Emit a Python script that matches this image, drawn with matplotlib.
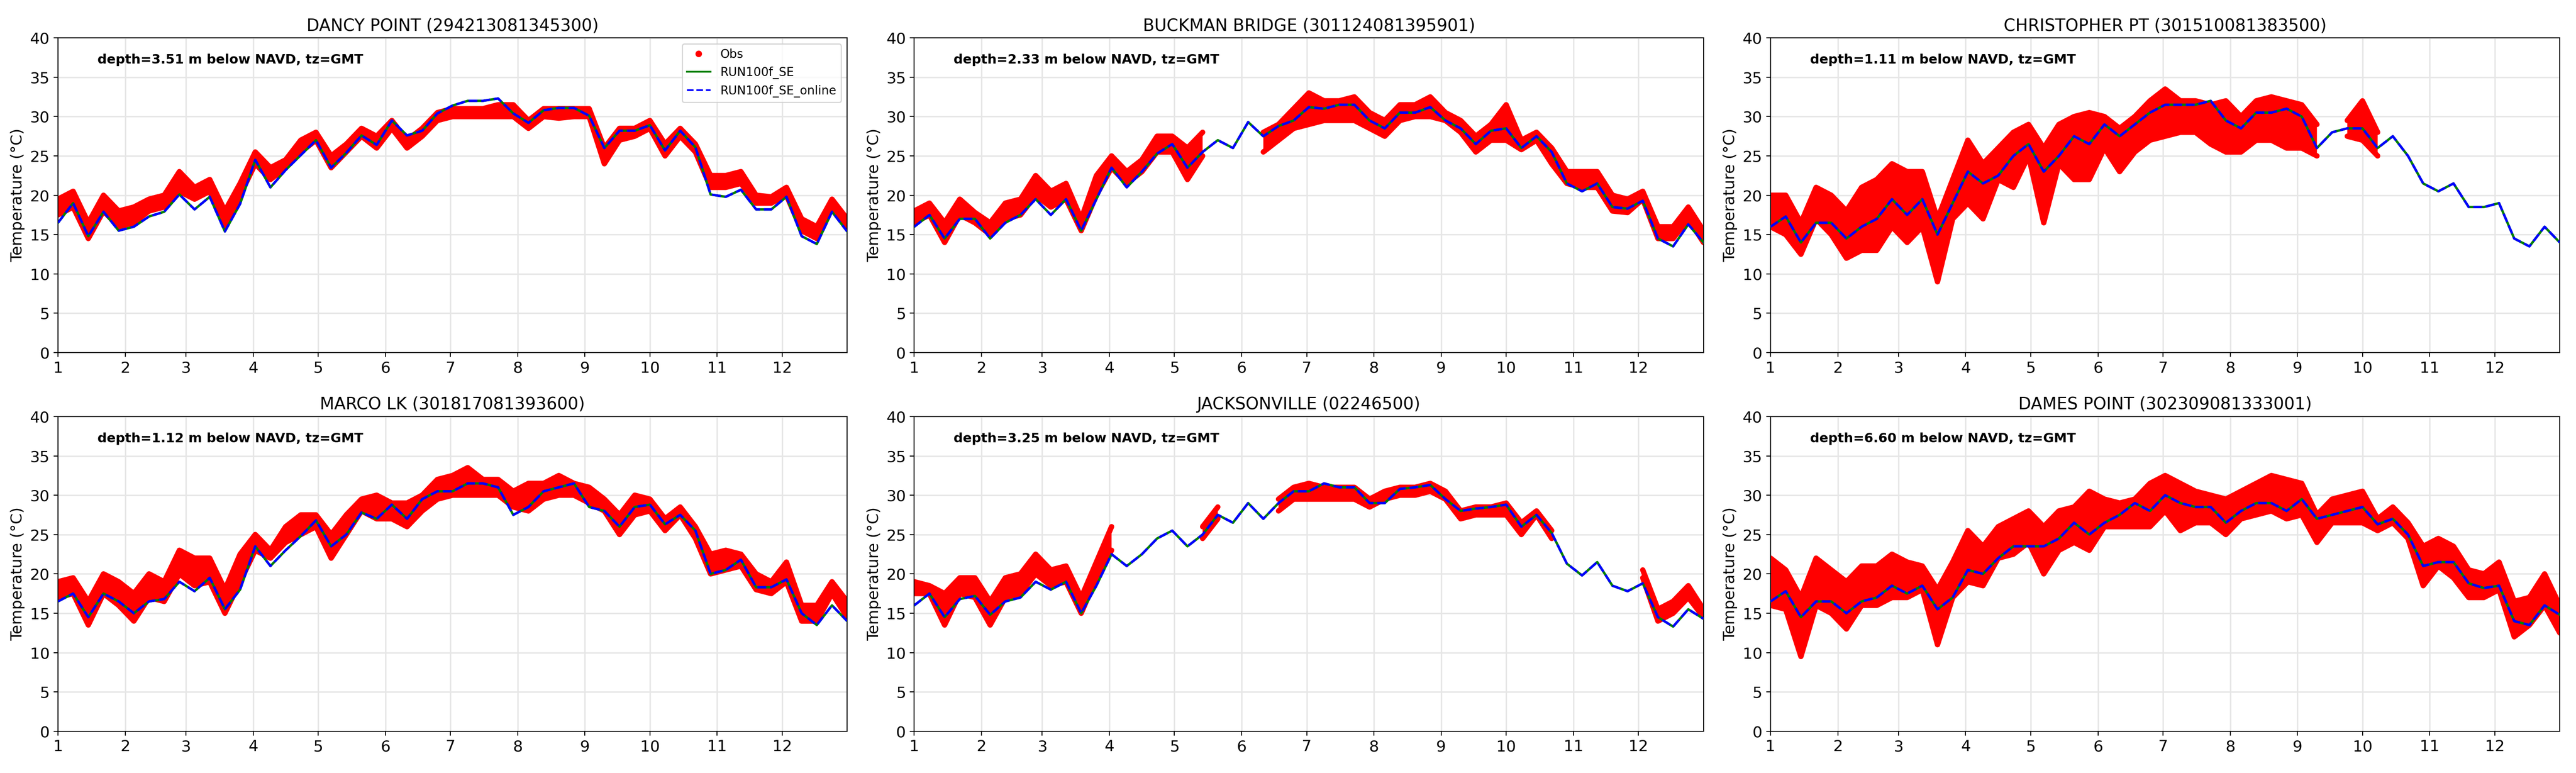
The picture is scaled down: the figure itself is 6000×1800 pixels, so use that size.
import numpy as np
import pandas as pd
import matplotlib
matplotlib.use('Agg')
import matplotlib.pyplot as plt
from matplotlib.lines import Line2D

nan = np.nan

# weekly samples (2018, day 0..364)
days = pd.date_range('2018-01-01', periods=53, freq='7D')
month_starts = pd.date_range('2018-01-01', periods=12, freq='MS')
month_labels = [str(m) for m in range(1, 13)]

titles = ['DANCY POINT (294213081345300)', 'BUCKMAN BRIDGE (301124081395901)',
          'CHRISTOPHER PT (301510081383500)', 'MARCO LK (301817081393600)',
          'JACKSONVILLE (02246500)', 'DAMES POINT (302309081333001)']
depths = ['3.51', '2.33', '1.11', '1.12', '3.25', '6.60']

# DANCY POINT
dancy_lo = [17.5, 18.5, 14.5, 18.0, 16.0, 16.5, 18.0, 18.5, 20.5, 19.5, 20.5, 16.0, 20.0, 24.0, 22.0, 23.5, 25.5, 27.0,
            23.5, 25.5, 27.5, 26.0, 28.5, 26.0, 27.5, 29.5, 30.0, 30.0, 30.0, 30.0, 30.0, 28.5, 30.0, 29.8, 30.0, 30.0,
            24.0, 27.0, 27.5, 28.5, 25.0, 27.5, 25.5, 21.0, 21.0, 21.5, 19.0, 19.0, 20.0, 15.5, 14.5, 18.5, 16.0]
dancy_hi = [19.5, 20.5, 16.5, 20.0, 18.0, 18.5, 19.5, 20.0, 23.0, 21.0, 22.0, 18.0, 21.5, 25.5, 23.5, 24.5, 27.0, 28.0,
            25.0, 26.5, 28.5, 27.5, 29.5, 27.0, 28.5, 30.5, 31.0, 31.0, 31.0, 31.5, 31.5, 29.5, 31.0, 31.0, 31.0, 31.0,
            26.0, 28.5, 28.5, 29.5, 26.5, 28.5, 26.5, 22.5, 22.5, 23.0, 20.0, 19.8, 21.0, 17.0, 16.0, 19.5, 17.0]
dancy_mod = [16.5, 19.0, 14.8, 17.9, 15.5, 16.0, 17.3, 17.9, 20.1, 18.2, 19.8, 15.4, 18.9, 24.5, 21.0, 23.2, 25.1, 27.0,
             23.5, 25.4, 27.6, 26.4, 29.5, 27.6, 28.2, 30.4, 31.4, 32.0, 32.0, 32.3, 30.4, 29.2, 30.8, 31.1, 31.1, 30.1,
             26.0, 28.2, 28.2, 28.9, 25.7, 28.2, 26.1, 20.1, 19.8, 20.7, 18.2, 18.2, 19.8, 14.8, 13.8, 17.9, 15.4]

# BUCKMAN BRIDGE
buckman_lo = [16.5, 17.5, 14.0, 17.5, 16.5, 15.0, 17.0, 17.5, 20.0, 18.5, 19.5, 15.5, 20.0, 23.5, 21.5, 23.0, 25.5, 25.5,
              22.0, 25.0, nan, nan, nan, 25.5, 27.0, 28.5, 29.0, 29.5, 29.5, 29.5, 28.5, 27.5, 29.5, 30.0, 30.0, 29.5,
              28.0, 25.5, 27.0, 27.0, 25.8, 27.0, 24.0, 21.5, 21.0, 21.0, 18.0, 17.8, 19.5, 14.5, 14.5, 17.0, 14.0]
buckman_hi = [18.0, 19.0, 16.5, 19.5, 17.8, 16.5, 19.0, 19.5, 22.5, 20.5, 21.5, 17.0, 22.5, 25.0, 23.0, 24.5, 27.5, 27.5,
              26.0, 28.0, nan, nan, nan, 28.0, 29.0, 31.0, 33.0, 32.0, 32.0, 32.5, 30.5, 29.5, 31.5, 31.5, 32.5, 30.5,
              29.5, 27.5, 29.0, 31.5, 27.0, 28.0, 26.0, 23.0, 23.0, 23.0, 20.0, 19.5, 20.5, 16.0, 16.0, 18.5, 15.5]
buckman_mod = [16.0, 17.5, 14.5, 17.0, 17.0, 14.5, 16.5, 17.5, 19.5, 17.5, 19.5, 15.5, 19.5, 23.5, 21.0, 23.0, 25.3, 26.5,
               23.5, 25.5, 27.0, 26.0, 29.3, 27.5, 28.8, 29.5, 31.2, 31.0, 31.5, 31.5, 29.5, 28.5, 30.5, 30.5, 31.2, 29.5,
               28.5, 26.5, 28.2, 28.5, 26.0, 27.5, 25.5, 21.5, 20.5, 21.5, 18.5, 18.3, 19.3, 14.5, 13.5, 16.3, 14.0]

# CHRISTOPHER PT
christ_lo = [16.0, 15.0, 12.5, 17.0, 15.0, 12.0, 13.0, 13.0, 16.0, 14.0, 16.0, 9.0, 17.0, 19.0, 17.0, 22.0, 21.0, 25.0,
             16.5, 24.0, 22.0, 22.0, 26.0, 23.0, 25.5, 27.0, 27.5, 28.0, 28.0, 26.5, 25.5, 25.5, 27.0, 27.0, 26.0, 26.0,
             25.0, nan, 27.5, 27.0, 25.0, nan, nan, nan, nan, nan, nan, nan, nan, nan, nan, nan, nan]
christ_hi = [20.0, 20.0, 16.5, 21.0, 20.0, 18.0, 21.0, 22.0, 24.0, 23.0, 23.0, 17.0, 22.0, 27.0, 24.0, 26.0, 28.0, 29.0,
             26.0, 29.0, 30.0, 30.5, 30.0, 28.5, 30.0, 32.0, 33.5, 32.0, 32.0, 31.5, 32.0, 30.0, 32.0, 32.5, 32.0, 31.5,
             29.0, nan, 29.5, 32.0, 28.0, nan, nan, nan, nan, nan, nan, nan, nan, nan, nan, nan, nan]
christ_mod = [16.0, 17.3, 14.0, 16.5, 16.5, 14.5, 16.0, 17.0, 19.5, 17.5, 19.5, 15.0, 19.0, 23.0, 21.5, 22.5, 25.0, 26.5,
              23.0, 25.0, 27.5, 26.5, 29.0, 27.5, 29.0, 30.5, 31.5, 31.5, 31.5, 32.0, 29.5, 28.5, 30.5, 30.5, 31.0, 30.0,
              26.0, 28.0, 28.5, 28.5, 26.0, 27.5, 25.0, 21.5, 20.5, 21.5, 18.5, 18.5, 19.0, 14.5, 13.5, 16.0, 14.0]

# MARCO LK
marco_lo = [17.0, 17.5, 13.5, 17.5, 16.0, 14.0, 17.0, 16.5, 20.0, 18.5, 19.0, 15.0, 19.0, 23.0, 22.0, 24.0, 25.0, 26.0,
            22.0, 25.0, 28.0, 27.0, 27.0, 26.0, 28.0, 29.5, 30.0, 30.0, 30.0, 30.0, 28.5, 28.0, 29.5, 30.0, 30.0, 29.0,
            28.0, 25.0, 27.5, 28.0, 25.5, 27.5, 24.5, 20.0, 20.5, 21.0, 18.0, 17.5, 19.0, 14.0, 14.0, 17.5, 14.5]
marco_hi = [19.0, 19.5, 16.5, 20.0, 19.0, 17.5, 20.0, 19.0, 23.0, 22.0, 22.0, 18.0, 22.5, 25.0, 23.0, 26.0, 27.5, 27.5,
            25.0, 27.5, 29.5, 30.0, 29.0, 29.0, 30.0, 32.0, 32.5, 33.5, 32.0, 32.0, 30.5, 31.5, 31.5, 32.5, 31.5, 31.0,
            29.5, 27.5, 30.0, 29.5, 27.0, 28.5, 26.0, 22.5, 23.0, 22.5, 20.0, 19.0, 21.5, 16.0, 16.0, 19.0, 16.5]
marco_mod = [16.5, 17.5, 14.5, 17.5, 16.5, 15.0, 16.5, 16.8, 19.0, 17.8, 19.5, 15.5, 18.0, 23.5, 21.0, 23.0, 24.8, 26.8,
             23.5, 25.0, 27.8, 27.0, 28.8, 27.0, 29.5, 30.5, 30.5, 31.5, 31.5, 31.0, 27.5, 28.5, 30.5, 31.0, 31.5, 28.5,
             28.0, 26.0, 28.5, 28.8, 26.3, 27.5, 25.5, 20.0, 20.5, 21.8, 18.3, 18.3, 19.3, 15.0, 13.5, 16.0, 14.0]

# JACKSONVILLE
jax_lo = [17.5, 17.5, 13.5, 17.5, 17.0, 13.5, 17.0, 17.5, 20.0, 18.5, 19.0, 15.0, 19.5, 23.0, nan, nan, nan, nan,
          nan, 24.5, 27.0, nan, nan, nan, 28.0, 29.5, 29.5, 29.5, 29.5, 29.5, 28.5, 29.5, 30.0, 30.0, 30.5, 29.5,
          27.0, 27.5, 27.5, 27.5, 25.0, 27.5, 24.5, nan, nan, nan, nan, nan, 19.5, 14.0, 15.0, 17.0, 14.5]
jax_hi = [19.0, 18.5, 17.5, 19.5, 19.5, 16.5, 19.5, 20.0, 22.5, 20.5, 21.0, 17.0, 21.5, 26.0, nan, nan, nan, nan,
          nan, 26.0, 28.5, nan, nan, nan, 29.5, 31.0, 31.5, 31.0, 31.0, 31.0, 29.5, 30.5, 31.0, 31.0, 31.5, 30.5,
          28.0, 28.5, 28.5, 29.0, 26.5, 28.0, 25.5, nan, nan, nan, nan, nan, 20.5, 15.5, 16.5, 18.5, 15.5]
jax_mod = [16.0, 17.5, 14.5, 16.8, 17.2, 14.8, 16.5, 17.0, 19.0, 18.0, 19.0, 15.0, 18.5, 22.5, 21.0, 22.5, 24.5, 25.5,
           23.5, 25.0, 27.5, 26.5, 29.0, 27.0, 29.0, 30.5, 30.5, 31.5, 31.0, 31.0, 29.0, 29.0, 30.8, 31.0, 31.3, 29.5,
           28.0, 28.3, 28.5, 28.8, 26.0, 27.5, 25.2, 21.3, 19.8, 21.5, 18.5, 17.8, 18.8, 14.5, 13.3, 15.5, 14.3]

# DAMES POINT
dames_lo = [16.0, 15.5, 9.5, 16.0, 15.0, 13.0, 16.0, 16.0, 17.0, 17.0, 18.0, 11.0, 17.0, 19.0, 18.5, 22.0, 22.5, 24.0,
            20.0, 23.0, 24.0, 23.0, 26.0, 26.0, 26.0, 26.0, 28.0, 25.5, 26.5, 26.5, 25.0, 27.0, 27.5, 28.0, 27.0, 27.5,
            24.0, 26.5, 26.5, 26.5, 25.5, 26.5, 24.5, 18.5, 21.0, 19.5, 17.0, 17.0, 18.0, 12.0, 13.5, 16.0, 12.5]
dames_hi = [22.0, 20.5, 17.0, 22.0, 20.5, 19.0, 21.0, 21.0, 22.5, 21.5, 21.0, 18.0, 21.5, 25.5, 23.5, 26.0, 27.0, 28.0,
            26.0, 28.0, 28.5, 30.5, 29.5, 29.0, 29.5, 31.5, 32.5, 31.5, 30.5, 30.0, 29.5, 30.5, 31.5, 32.5, 32.0, 31.5,
            27.5, 29.5, 30.0, 30.5, 27.0, 28.5, 26.5, 23.5, 24.5, 23.5, 20.5, 20.0, 21.5, 16.5, 17.0, 20.0, 16.0]
dames_mod = [16.5, 17.8, 14.5, 16.5, 16.5, 15.0, 16.5, 17.0, 18.5, 17.5, 18.5, 15.5, 17.0, 20.5, 20.0, 22.0, 23.5, 23.5,
             23.5, 24.5, 26.5, 25.0, 26.5, 27.5, 29.0, 28.0, 30.0, 29.0, 28.5, 28.5, 26.5, 28.0, 29.0, 29.0, 28.0, 29.5,
             27.0, 27.5, 28.0, 28.5, 26.3, 27.0, 25.0, 21.0, 21.5, 21.5, 18.8, 18.2, 18.5, 14.0, 13.5, 16.0, 14.8]

obs_lo = [dancy_lo, buckman_lo, christ_lo, marco_lo, jax_lo, dames_lo]
obs_hi = [dancy_hi, buckman_hi, christ_hi, marco_hi, jax_hi, dames_hi]
model = [dancy_mod, buckman_mod, christ_mod, marco_mod, jax_mod, dames_mod]

plt.rcParams['font.size'] = 13

fig, axes = plt.subplots(2, 3, figsize=(30, 9), dpi=200)
fig.subplots_adjust(left=0.0225, right=0.9937, top=0.951, bottom=0.054, wspace=0.085, hspace=0.203)

for i, ax in enumerate(axes.flat):
    lo = np.array(obs_lo[i], dtype=float)
    hi = np.array(obs_hi[i], dtype=float)
    # obs band: dense red dots in the original, drawn here as a filled range
    ax.fill_between(days, lo, hi, color='red', lw=0, zorder=2)
    ax.plot(days, lo, color='red', lw=4.5, solid_capstyle='round', solid_joinstyle='round', zorder=2)
    ax.plot(days, hi, color='red', lw=4.5, solid_capstyle='round', solid_joinstyle='round', zorder=2)
    ax.plot(days, model[i], color='green', lw=2, zorder=3)
    ax.plot(days, model[i], color='blue', ls='--', lw=2, zorder=4)

    ax.set_title(titles[i], fontsize=14)
    ax.set_ylabel('Temperature (°C)', fontsize=13)
    ax.set_ylim(0, 40)
    ax.set_yticks(range(0, 41, 5))
    ax.set_xlim(days[0], days[-1])
    ax.set_xticks(month_starts)
    ax.set_xticklabels(month_labels)
    ax.grid(True, color='#e6e6e6', lw=1.2, zorder=0)
    ax.text(0.05, 0.93, 'depth=%s m below NAVD, tz=GMT' % depths[i], transform=ax.transAxes,
            fontsize=11, fontweight='bold', va='center')

handles = [Line2D([], [], color='red', marker='o', ls='none', markersize=4.5),
           Line2D([], [], color='green', lw=1.5),
           Line2D([], [], color='blue', ls='--', lw=1.5)]
axes[0, 0].legend(handles, ['Obs', 'RUN100f_SE', 'RUN100f_SE_online'], loc='upper right', fontsize=10)

fig.savefig('out.png', dpi=200)
